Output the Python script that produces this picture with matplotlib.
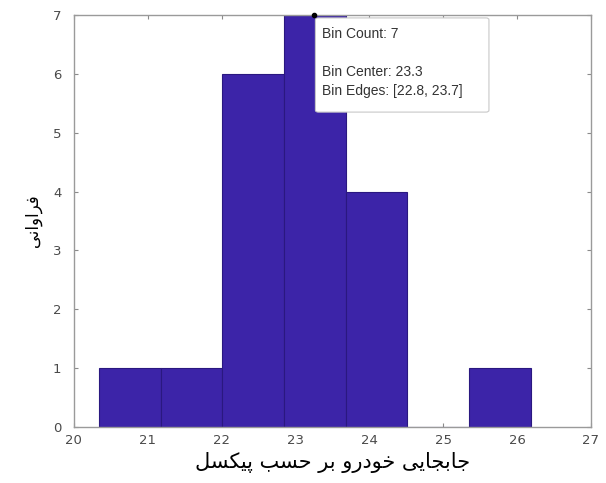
import numpy as np
import matplotlib.pyplot as plt
from matplotlib.patches import FancyBboxPatch

# bin edges and counts
bin_edges = [20.34, 21.175, 22.01, 22.845, 23.68, 24.515, 25.35, 26.185]
bin_counts = [1, 1, 6, 7, 4, 0, 1]
x_ticks = [20, 21, 22, 23, 24, 25, 26, 27]
y_ticks = [0, 1, 2, 3, 4, 5, 6, 7]

tip_x, tip_y = 23.25, 7
tip_text = "Bin Count: 7\n\nBin Center: 23.3\nBin Edges: [22.8, 23.7]"

# Persian labels, shaped by hand (presentation forms) and put in visual order
xlabel_logical = ("\uFE9F\uFE8E\uFE91\uFEA0\uFE8E\uFBFE\uFBFD" + " "
                  + "\uFEA7\uFEEE\uFEA9\uFEAD\uFEED" + " "
                  + "\uFE91\uFEAE" + " "
                  + "\uFEA3\uFEB4\uFE90" + " "
                  + "\uFB58\uFBFF\uFB91\uFEB4\uFEDE")
ylabel_logical = "\uFED3\uFEAE\uFE8D\uFEED\uFE8D\uFEE7\uFBFD"
xlabel = xlabel_logical[::-1]
ylabel = ylabel_logical[::-1]

def main():
    fig = plt.figure(figsize=(6.06, 4.83), dpi=100)
    ax = fig.add_axes([0.122, 0.116, 0.853, 0.853])

    edges = np.array(bin_edges)
    widths = np.diff(edges)
    ax.bar(edges[:-1], bin_counts, width=widths, align="edge",
           color="#3c24a8", edgecolor="#2a1880", linewidth=0.8, zorder=2)

    ax.set_xlim(20, 27)
    ax.set_ylim(0, 7)
    ax.set_xticks(x_ticks)
    ax.set_yticks(y_ticks)
    ax.tick_params(direction="in", top=True, right=True, length=3,
                   color="#8a8a8a", labelcolor="#4a4a4a", labelsize=9.5)
    ax.tick_params(axis="x", pad=5)
    ax.tick_params(axis="y", pad=9)
    for s in ax.spines.values():
        s.set_color("#9a9a9a")
        s.set_linewidth(1.0)

    ax.set_xlabel(xlabel, fontsize=15, family=["DejaVu Sans"], labelpad=4)
    ax.set_ylabel(ylabel, fontsize=12, family=["DejaVu Sans"], labelpad=8)

    # data tip
    ax.plot([tip_x], [tip_y], marker="o", color="black", markersize=3,
            clip_on=False, zorder=5)
    box = FancyBboxPatch((23.27, 5.35), 2.35, 1.6,
                         boxstyle="round,pad=0,rounding_size=0.04",
                         facecolor="white", edgecolor="#c8c8c8",
                         linewidth=0.8, zorder=4, clip_on=False,
                         mutation_aspect=0.8)
    ax.add_patch(box)
    ax.text(23.36, 6.8, tip_text, fontsize=10, family=["Liberation Sans"],
            color="#333333", va="top", ha="left", linespacing=1.45, zorder=6)

    plt.savefig("out.png", dpi=100)

if __name__ == "__main__":
    main()
